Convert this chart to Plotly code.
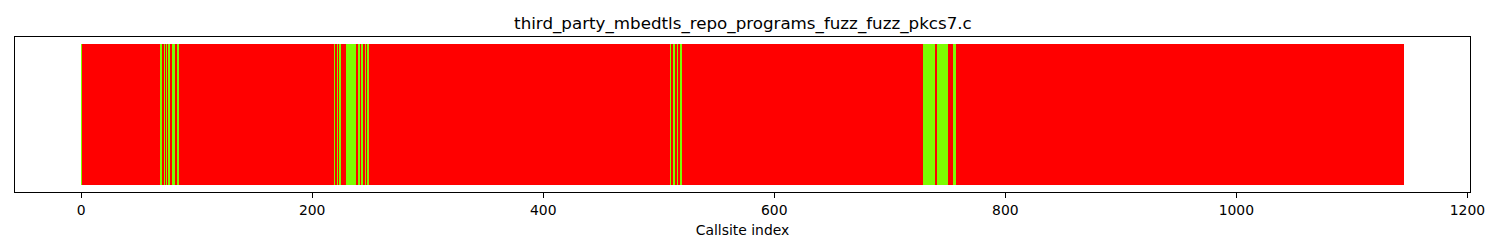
import plotly.graph_objects as go

# ---- data ----
title_text = "third_party_mbedtls_repo_programs_fuzz_fuzz_pkcs7.c"
x_label = "Callsite index"
n_callsites = 1145
# callsites reached (green); all others not reached (red)
hit_callsites = [0, 69, 72, 74, 76, 79, 80, 81, 83, 84,
                 219, 222, 224, 229, 230, 231, 232, 233, 234, 235, 236,
                 237, 240, 243, 246, 248,
                 510, 513, 516, 519,
                 729, 730, 731, 732, 733, 734, 735, 736, 737, 738,
                 741, 742, 743, 744, 745, 746, 747, 748, 749,
                 755, 756]
tick_values = [0, 200, 400, 600, 800, 1000, 1200]
tick_labels = ["0", "200", "400", "600", "800", "1000", "1200"]
hit_color = "#7cfc00"
miss_color = "#ff0000"

# ---- group consecutive callsites of the same status into runs ----
hit_set = set(hit_callsites)
status = [i in hit_set for i in range(n_callsites)]
run_start, run_len, run_color = [], [], []
i = 0
while i < n_callsites:
    j = i
    while j < n_callsites and status[j] == status[i]:
        j += 1
    run_start.append(i)
    run_len.append(j - i)
    run_color.append(hit_color if status[i] else miss_color)
    i = j

fig = go.Figure(go.Bar(
    x=run_start, y=[1] * len(run_start), width=run_len, offset=0,
    marker=dict(color=run_color, line=dict(width=0)),
    hoverinfo="skip", showlegend=False,
))

font = "DejaVu Sans, sans-serif"
fig.update_layout(
    width=1500, height=250,
    margin=dict(l=15, r=30, t=37, b=58),
    paper_bgcolor="white", plot_bgcolor="white",
    bargap=0,
    font=dict(family=font, color="black", size=14),
    title=dict(text=title_text, x=0.4953, xanchor="center",
               y=1 - 23 / 250, yanchor="middle", yref="container",
               font=dict(family=font, size=16.7, color="black")),
    xaxis=dict(range=[-57.25, 1202.25], tickmode="array",
               tickvals=tick_values, ticktext=tick_labels,
               ticks="outside", ticklen=5, tickwidth=1, tickcolor="black",
               showline=True, linecolor="black", linewidth=1, mirror=True,
               showgrid=False, zeroline=False,
               tickfont=dict(family=font, size=13.9),
               title=dict(text=x_label, standoff=8,
                          font=dict(family=font, size=13.9))),
    yaxis=dict(range=[-0.05, 1.05], showticklabels=False, ticks="",
               showline=True, linecolor="black", linewidth=1, mirror=True,
               showgrid=False, zeroline=False),
)

fig.write_html("out.html")
